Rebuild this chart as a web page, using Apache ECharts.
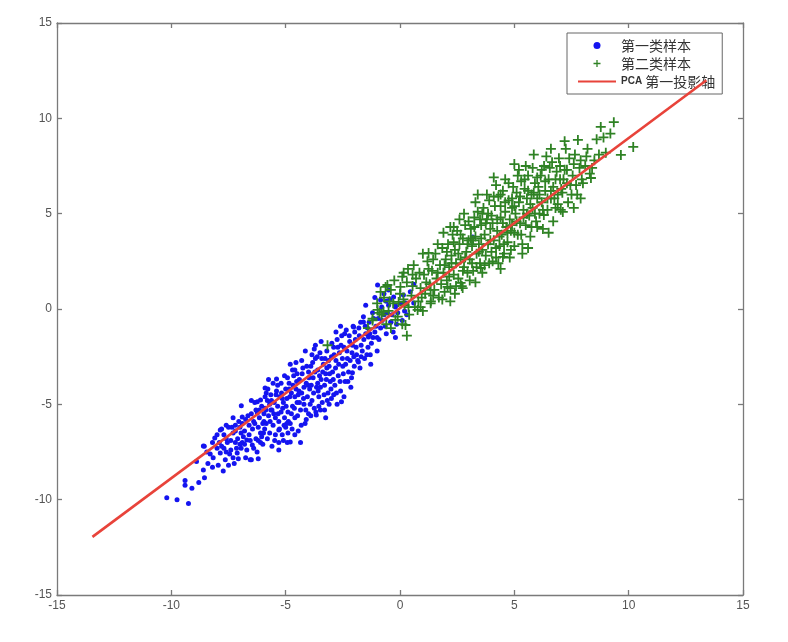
<!DOCTYPE html>
<html>
<head>
<meta charset="utf-8">
<script src="https://cdn.jsdelivr.net/npm/echarts/dist/echarts.min.js"></script>
<style>
html,body{margin:0;padding:0;background:#fff;}
#chart{width:788px;height:642px;}
</style>
</head>
<body>
<div id="chart"></div>
<script>
// Axis settings
var axisMin = -15, axisMax = 15, axisStep = 5;

// Series names
var seriesNames = ['第一类样本', '第二类样本', 'PCA 第一投影轴'];

// Class 1 samples (blue dots) [x, y]
var class1 = [
 [-10.2,-9.9],[-9.75,-10.0],[-9.25,-10.2],[-9.4,-9.0],[-9.4,-9.25],[-9.1,-9.4],[-8.8,-9.1],[-8.55,-8.85],
 [-8.6,-8.45],[-8.2,-8.3],[-8.17,-7.8],[-7.95,-8.2],[-7.73,-8.5],[-7.5,-8.2],[-7.86,-7.55],[-8.56,-7.2],
 [-8.1,-6.76],[-7.64,-7.9],[-7.12,-7.55],[-7.07,-7.85],[-6.5,-7.9],[-6.2,-7.85],[-7.4,-7.4],[-7.55,-7.0],
 [-7.2,-7.0],[-6.9,-7.0],[-7.3,-6.5],[-7.86,-6.35],[-6.85,-6.7],[-6.7,-6.87],[-6.46,-7.13],[-6.1,-7.0],
 [-5.97,-6.5],[-6.9,-5.66],[-6.24,-5.45],[-6.94,-5.08],[-6.1,-4.77],[-5.85,-4.4],[-5.3,-7.0],[-5.3,-6.35],
 [-6.55,-7.9],[-6.0,-7.1],[-4.93,-7.0],[-4.8,-6.97],[-3.66,-5.56],[-3.48,-5.3],[-2.56,-4.87],[-4.14,-2.2],
 [-4.6,-3.2],[-5.4,-3.67],[-5.9,-4.14],[-6.24,-4.87],[-7.3,-5.7],[-7.8,-6.3],[-8.6,-7.18],[-2.8,-1.2],
 [-2.03,-0.94],[-1.6,-0.68],[-1.38,-1.47],[-1.3,-2.4],[-1.82,-2.78],[-2.08,-3.35],[-0.2,-1.5],[-0.85,0.47],
 [-0.98,1.26],[-0.5,1.0],
 [-7.9,-7.0],[-7.7,-6.6],[-7.6,-7.5],[-7.5,-6.2],[-7.4,-6.9],[-7.3,-7.8],[-7.2,-6.4],[-7.0,-7.1],
 [-7.7,-7.3],[-8.0,-7.3],[-8.3,-7.6],[-8.4,-8.1],[-8.9,-8.0],
 [-7.0,-6.2],[-6.9,-6.0],[-6.8,-6.4],[-6.75,-5.8],[-6.6,-6.1],[-6.6,-6.6],[-6.5,-5.5],[-6.45,-6.3],
 [-6.4,-5.9],[-6.3,-6.8],[-6.3,-5.3],[-6.2,-6.2],[-6.15,-5.7],[-6.1,-6.5],[-6.05,-5.1],[-6.0,-6.0],
 [-7.1,-6.8],[-7.2,-6.1],[-6.95,-7.3],[-6.7,-7.4],[-6.4,-7.3],[-6.2,-6.9],[-5.95,-5.5],[-6.35,-4.9],
 [-5.9,-5.2],[-5.85,-6.0],[-5.8,-4.8],[-5.75,-5.6],[-5.7,-6.5],[-5.65,-4.5],[-5.6,-5.3],[-5.55,-6.1],
 [-5.5,-4.9],[-5.45,-5.7],[-5.4,-4.3],[-5.35,-5.1],[-5.3,-5.9],[-5.25,-4.6],[-5.2,-5.4],[-5.15,-6.6],
 [-5.1,-4.9],[-5.05,-5.7],[-5.0,-4.2],[-5.0,-6.2],[-5.8,-6.8],[-5.6,-7.2],[-5.9,-4.6],[-5.7,-5.0],
 [-5.45,-6.6],[-5.2,-3.9],[-5.35,-4.0],[-5.55,-3.9],[-5.1,-6.9],[-5.95,-5.9],
 [-4.95,-4.7],[-4.9,-5.4],[-4.85,-3.9],[-4.8,-6.0],[-4.75,-4.4],[-4.7,-5.1],[-4.65,-3.5],[-4.6,-5.7],
 [-4.55,-4.2],[-4.5,-4.9],[-4.45,-6.4],[-4.4,-3.7],[-4.35,-5.3],[-4.3,-4.4],[-4.25,-3.1],[-4.2,-5.0],
 [-4.15,-6.0],[-4.1,-3.9],[-4.05,-4.6],[-4.0,-5.5],[-4.0,-3.3],[-4.9,-6.5],[-4.7,-3.2],[-4.55,-2.8],
 [-4.3,-2.7],[-4.85,-4.2],[-4.6,-4.6],[-4.4,-4.9],[-4.2,-4.1],[-4.75,-5.5],[-4.1,-5.8],[-4.5,-3.4],
 [-3.95,-4.2],[-3.9,-3.0],[-3.85,-4.8],[-3.8,-3.6],[-3.75,-5.2],[-3.7,-2.6],[-3.65,-4.1],[-3.6,-3.2],
 [-3.55,-4.6],[-3.5,-2.3],[-3.45,-3.7],[-3.4,-4.9],[-3.35,-2.9],[-3.3,-4.0],[-3.25,-3.4],[-3.2,-2.2],
 [-3.15,-4.4],[-3.1,-3.0],[-3.05,-3.8],[-3.0,-2.5],[-3.0,-4.7],[-3.9,-5.6],[-3.7,-1.9],[-3.45,-1.7],
 [-3.3,-5.3],[-3.85,-2.4],[-3.6,-3.9],[-3.2,-3.1],[-3.1,-5.0],
 [-2.95,-3.3],[-2.9,-2.0],[-2.85,-4.0],[-2.8,-2.7],[-2.75,-1.6],[-2.7,-3.5],[-2.65,-2.3],[-2.6,-4.3],
 [-2.55,-1.4],[-2.5,-3.0],[-2.45,-2.0],[-2.4,-3.8],[-2.35,-1.1],[-2.3,-2.6],[-2.25,-3.3],[-2.2,-1.7],
 [-2.15,-4.1],[-2.1,-2.3],[-2.05,-0.9],[-2.0,-3.0],[-2.9,-4.5],[-2.6,-0.9],[-2.45,-4.6],
 [-1.95,-1.6],[-1.9,-2.4],[-1.8,-1.0],[-1.75,-3.1],[-1.7,-1.9],[-1.6,-0.4],[-1.55,-2.6],[-1.5,-1.3],
 [-1.4,-2.0],[-1.35,-0.7],[-1.25,-1.8],[-1.2,-0.2],[-1.1,-1.2],[-1.0,-2.2],[-0.95,-0.5],[-0.85,-1.0],
 [-0.7,-0.3],[-0.6,-1.3],[-0.5,0.2],[-0.4,-0.7],[-0.2,0.1],[0.1,-0.6],[0.3,-0.3],[-1.1,0.6],
 [-0.7,0.8],[-0.3,-1.2],[0.6,1.3],[-0.28,0.63],[0.15,0.74],[-0.2,0.2],[-0.1,-0.2],[0.24,0.32],
 [0.6,0.32],[-0.4,-0.68],[3.18,3.78],
 [-8.0,-6.6],[-7.8,-7.2],[-7.6,-6.8],[-7.45,-7.6],[-7.35,-6.2],[-7.15,-7.3],[-6.95,-6.5],[-6.8,-7.1],
 [-6.65,-5.6],[-6.55,-6.9],[-6.35,-6.0],[-6.25,-7.5],[-6.15,-5.3],[-6.05,-6.7],[-7.05,-5.9],[-7.6,-6.1],
 [-8.2,-7.0],[-8.45,-7.5],[-7.25,-8.1],[-6.75,-7.8],[-6.5,-4.8],
 [-5.92,-6.3],[-5.87,-5.3],[-5.78,-4.2],[-5.68,-5.9],[-5.62,-4.8],[-5.52,-5.5],[-5.48,-6.9],[-5.42,-4.5],
 [-5.33,-5.5],[-5.27,-6.3],[-5.18,-4.4],[-5.13,-5.2],[-5.07,-6.1],[-4.98,-5.1],[-4.92,-3.6],[-4.88,-5.9],
 [-4.82,-4.6],[-4.72,-6.3],[-4.68,-4.0],[-4.62,-5.2],[-4.52,-3.8],[-4.48,-5.6],[-4.42,-4.3],[-4.32,-6.1],
 [-4.28,-3.4],[-4.22,-4.7],[-4.12,-5.3],[-4.08,-3.0],[-4.02,-4.0],[-5.75,-3.7],[-5.05,-3.5],[-4.8,-2.9],
 [-5.3,-7.4],[-4.6,-6.6],[-4.35,-7.0],[-5.65,-5.3],[-5.15,-4.7],[-4.45,-4.5],[-4.95,-6.0],
 [-3.98,-3.6],[-3.93,-5.0],[-3.88,-4.0],[-3.82,-2.8],[-3.78,-4.4],[-3.72,-3.3],[-3.68,-5.4],[-3.62,-2.5],
 [-3.58,-4.3],[-3.52,-3.5],[-3.48,-4.1],[-3.42,-2.6],[-3.38,-3.3],[-3.32,-4.5],[-3.28,-2.6],[-3.22,-3.7],
 [-3.18,-4.8],[-3.12,-2.7],[-3.08,-3.4],[-3.02,-4.2],[-2.98,-1.8],[-2.92,-3.7],[-2.88,-2.4],[-2.82,-3.1],
 [-2.78,-4.4],[-2.72,-2.0],[-2.68,-2.9],[-2.62,-3.8],[-2.58,-1.9],[-2.52,-2.6],[-2.48,-3.4],[-2.42,-1.3],
 [-2.38,-2.9],[-2.32,-2.2],[-2.28,-3.8],[-2.22,-1.4],[-2.18,-2.7],[-2.12,-3.6],[-2.08,-1.9],[-2.02,-2.5],
 [-3.55,-5.1],[-3.25,-5.7],[-2.75,-5.0],[-3.75,-2.1],
 [-1.98,-1.2],[-1.92,-2.0],[-1.85,-2.7],[-1.78,-1.4],[-1.72,-0.7],[-1.65,-2.2],[-1.58,-1.6],[-1.52,-0.9],
 [-1.45,-2.4],[-1.42,-1.0],[-1.32,-1.3],[-1.28,-2.9],[-1.18,-1.5],[-1.15,-0.5],[-1.05,-0.9],[-0.92,-1.6],
 [-0.78,-0.6],[-0.65,-0.9],[-0.55,-0.2],[-0.45,0.5],[-0.35,-0.3],[-0.15,-0.8],[0.05,0.3],[0.2,-0.1],
 [0.45,0.9],[-0.6,0.4],[-0.8,0.1],[-1.5,0.2],[-1.7,-2.5],[-1.0,-1.5]
];

// Class 2 samples (green plus) [x, y]
var class2 = [
 [-3.17,-1.9],[-1.2,-0.5],[-0.9,-0.2],[-0.4,-1.0],[0.1,-0.8],[0.3,-1.4],
 [-0.55,1.26],[0.02,1.16],[0.55,1.8],[1.34,1.0],[0.37,0.1],[0.77,-0.05],[-0.2,-0.57],[-0.72,-0.15],[0.24,-0.84],
 [2.35,4.3],[1.25,2.94],[0.6,2.3],[0.16,1.9],[-0.63,1.16],[-0.98,-0.05],[-0.06,0.37],[0.9,0.1],
 [2.08,1.16],[2.65,1.37],[3.53,2.15],[4.5,2.73],[2.74,1.1],[1.34,0.3],
 [-1.2,-0.6],[-1.0,0.3],[-0.8,-0.3],[-0.7,0.6],[-0.5,-0.1],[-0.4,1.0],[-0.3,0.3],[-0.1,-0.4],
 [0.0,0.8],[0.2,0.2],[0.3,1.4],[0.4,-0.3],[0.5,0.7],[0.7,1.6],[0.8,0.4],[0.9,1.1],[1.0,-0.1],
 [-0.6,-0.8],[0.1,1.7],[-1.4,-1.0],
 [1.05,1.8],[1.1,0.8],[1.2,2.5],[1.3,1.3],[1.35,0.4],[1.4,2.0],[1.5,1.0],[1.55,2.9],[1.6,1.6],
 [1.7,0.6],[1.75,2.3],[1.8,1.3],[1.85,3.2],[1.9,1.9],[1.95,0.9],[2.0,2.6],
 [2.05,1.5],[2.1,3.4],[2.15,2.2],[2.2,1.1],[2.25,2.8],[2.3,3.9],[2.35,1.8],[2.4,3.1],[2.45,2.4],
 [2.5,4.1],[2.55,1.6],[2.6,3.4],[2.65,2.6],[2.7,1.2],[2.75,3.7],[2.8,2.2],[2.85,4.4],[2.9,3.0],
 [2.95,1.9],[3.0,3.6],[2.2,4.3],[2.6,4.7],[2.4,0.8],
 [3.05,2.6],[3.1,4.2],[3.15,3.3],[3.2,2.0],[3.25,4.8],[3.3,3.8],[3.35,2.9],[3.4,5.1],[3.45,3.4],
 [3.5,2.4],[3.55,4.4],[3.6,3.1],[3.65,5.3],[3.7,3.9],[3.75,2.8],[3.8,4.7],[3.85,3.4],[3.9,5.7],
 [3.95,4.2],[4.0,3.0],[3.3,5.6],[3.6,1.9],[3.8,6.0],[3.1,3.7],[3.5,4.7],[3.9,2.4],
 [4.05,4.5],[4.1,3.6],[4.15,5.4],[4.2,2.7],[4.25,4.1],[4.3,5.9],[4.35,3.3],[4.4,4.8],[4.45,3.9],
 [4.5,6.2],[4.55,2.9],[4.6,5.1],[4.65,4.3],[4.7,3.5],[4.75,5.7],[4.8,4.7],[4.85,3.1],[4.9,5.3],
 [4.95,6.4],[5.0,4.0],[4.2,6.5],[4.6,6.8],[4.3,2.4],[4.8,2.7],[4.4,5.4],[4.9,4.4],
 [5.05,5.0],[5.1,6.1],[5.15,3.9],[5.2,5.6],[5.25,4.5],[5.3,6.7],[5.35,3.4],[5.4,5.2],[5.45,6.3],
 [5.5,4.4],[5.55,5.8],[5.6,7.0],[5.65,4.9],[5.7,3.8],[5.75,6.0],[5.8,5.3],[5.85,8.1],[5.9,6.6],
 [5.95,4.6],[6.0,5.8],[5.2,7.3],[5.5,7.5],[5.35,2.9],[5.8,7.4],
 [6.05,6.4],[6.1,5.0],[6.15,7.0],[6.2,5.6],[6.29,4.93],[6.3,7.5],[6.35,6.2],[6.45,5.2],[6.5,6.8],
 [6.6,5.8],[6.65,7.7],[6.7,6.4],[6.8,5.3],[6.85,7.2],[6.9,6.0],[7.0,6.8],[7.03,5.2],[6.4,8.0],
 [6.95,7.9],[6.25,4.2],[6.7,4.6],
 [7.1,6.1],[7.12,5.09],[7.2,7.3],[7.3,6.6],[7.4,7.9],[7.5,6.0],[7.55,7.0],[7.65,8.1],[7.7,6.5],
 [7.78,8.87],[7.85,7.4],[7.9,5.8],[7.25,8.4],[7.95,6.8],
 [8.1,7.5],[8.2,8.4],[8.35,6.87],[8.5,7.8],[8.6,8.9],[8.78,9.55],[8.9,9.0],[9.0,8.2],[9.35,9.8],
 [9.66,8.08],[10.2,8.5],[8.3,7.1],[9.2,9.2],
 [-0.85,0.9],[-0.45,0.4],[-0.25,1.5],[0.15,0.5],[0.35,2.1],[0.55,1.2],[0.65,0.1],[0.85,1.9],[0.95,0.6],
 [1.15,1.4],[1.25,2.1],[1.45,0.7],[1.45,2.6],[1.65,1.9],[1.65,3.4],[1.85,0.5],[1.95,2.3],[2.05,3.0],
 [2.15,1.7],[2.25,2.4],[2.35,3.5],[2.45,1.2],[2.55,2.9],[2.65,3.9],[2.75,2.0],[2.85,2.7],[2.95,3.4],
 [3.05,1.5],[3.15,2.4],[3.2,3.6],[3.25,4.3],[3.35,2.2],[3.45,3.0],[3.55,3.7],[3.6,5.0],[3.7,2.3],
 [3.75,4.5],[3.85,5.0],[3.95,3.6],[4.0,4.9],[4.05,2.5],[4.1,5.9],[4.2,3.2],[4.25,4.7],[4.35,3.8],
 [4.4,6.0],[4.5,4.5],[4.55,3.4],[4.6,5.6],[4.7,4.0],[4.75,6.6],[4.85,4.1],[4.9,5.8],[5.0,3.3],
 [5.0,5.4],[5.1,4.6],[5.15,7.0],[5.25,5.9],[5.3,3.9],[5.4,4.8],[5.45,6.8],[5.55,5.0],[5.6,6.2],
 [5.7,5.5],[5.75,4.3],[5.85,6.1],[5.9,5.0],[6.0,6.9],[6.0,4.3],[6.1,6.0],[6.2,7.3],[6.25,5.2],
 [6.35,6.7],[6.45,5.8],[6.55,7.4],[6.6,6.2],[6.75,5.8],[6.8,6.8],[6.9,5.5],[7.0,7.5],[7.05,6.3],
 [7.15,6.8],[7.3,7.3],[7.35,5.6],[7.45,6.5],[7.6,7.6],[7.75,6.0],[7.9,7.8],[8.0,6.6],[8.15,8.0],
 [8.4,7.4],[8.7,8.1],[3.0,4.6],[2.8,5.0],[3.4,6.0],[4.1,6.9],[5.0,7.6],[1.0,2.9],[1.9,4.0],
 [6.6,8.4],[7.2,8.8],[2.2,0.4],[3.3,1.4],[4.4,2.1],[5.6,3.2],[6.5,4.0],[7.6,5.3]
];

// PCA first projection axis endpoints [x, y]
var pcaAxis = [[-13.45,-11.95],[13.4,12.0]];

var plusPath = 'path://M4.1,0h1.8v4.1h4.1v1.8h-4.1v4.1h-1.8v-4.1h-4.1v-1.8h4.1z';
var axisColor = '#7a7a7a';
var labelColor = '#555';

function makeAxis(pos, showLabel){
  return {
    type:'value', position:pos, min:axisMin, max:axisMax, interval:axisStep,
    splitLine:{show:false},
    axisLine:{show:true, onZero:false, lineStyle:{color:axisColor, width:1.3}},
    axisTick:{show:true, inside:true, length:5, lineStyle:{color:axisColor, width:1.3}},
    axisLabel:{show:showLabel, color:labelColor, fontSize:12, fontFamily:'Liberation Sans, Arial, sans-serif', margin:5, showMinLabel:true, showMaxLabel:true}
  };
}

var chart = echarts.init(document.getElementById('chart'), null, {renderer:'canvas'});
chart.setOption({
  animation:false,
  backgroundColor:'#ffffff',
  grid:{left:57, right:45, top:23, bottom:47, containLabel:false},
  xAxis:[makeAxis('bottom', true), makeAxis('top', false)],
  yAxis:[makeAxis('left', true), makeAxis('right', false)],
  legend:{
    orient:'vertical', left:567, top:33,
    padding:[4,7,4,10], itemGap:1, itemWidth:38, itemHeight:7,
    backgroundColor:'#ffffff', borderColor:'#666', borderWidth:1, borderRadius:0,
    textStyle:{color:'#333', fontSize:14, lineHeight:17, fontFamily:'Noto Sans CJK SC, sans-serif',
      rich:{b:{fontSize:10, fontWeight:'bold', color:'#333', fontFamily:'Liberation Sans, Arial, sans-serif'}}},
    formatter:function(name){
      if(name.indexOf('PCA') === 0){ return '{b|PCA} ' + name.slice(4); }
      return name;
    },
    data:[
      {name:seriesNames[0], icon:'circle'},
      {name:seriesNames[1], icon:plusPath},
      {name:seriesNames[2], itemStyle:{opacity:0}}
    ]
  },
  series:[
    {name:seriesNames[0], type:'scatter', xAxisIndex:0, yAxisIndex:0, data:class1,
     symbol:'circle', symbolSize:5, itemStyle:{color:'#1414f0', opacity:1}, z:2},
    {name:seriesNames[1], type:'scatter', xAxisIndex:0, yAxisIndex:0, data:class2,
     symbol:plusPath, symbolSize:10, itemStyle:{color:'#2f8224', opacity:1}, z:3},
    {name:seriesNames[2], type:'line', xAxisIndex:0, yAxisIndex:0, data:pcaAxis,
     symbol:'none', showSymbol:false, lineStyle:{color:'#e8433a', width:2.6}, itemStyle:{color:'#e8433a'}, z:4}
  ]
});
</script>
</body>
</html>
